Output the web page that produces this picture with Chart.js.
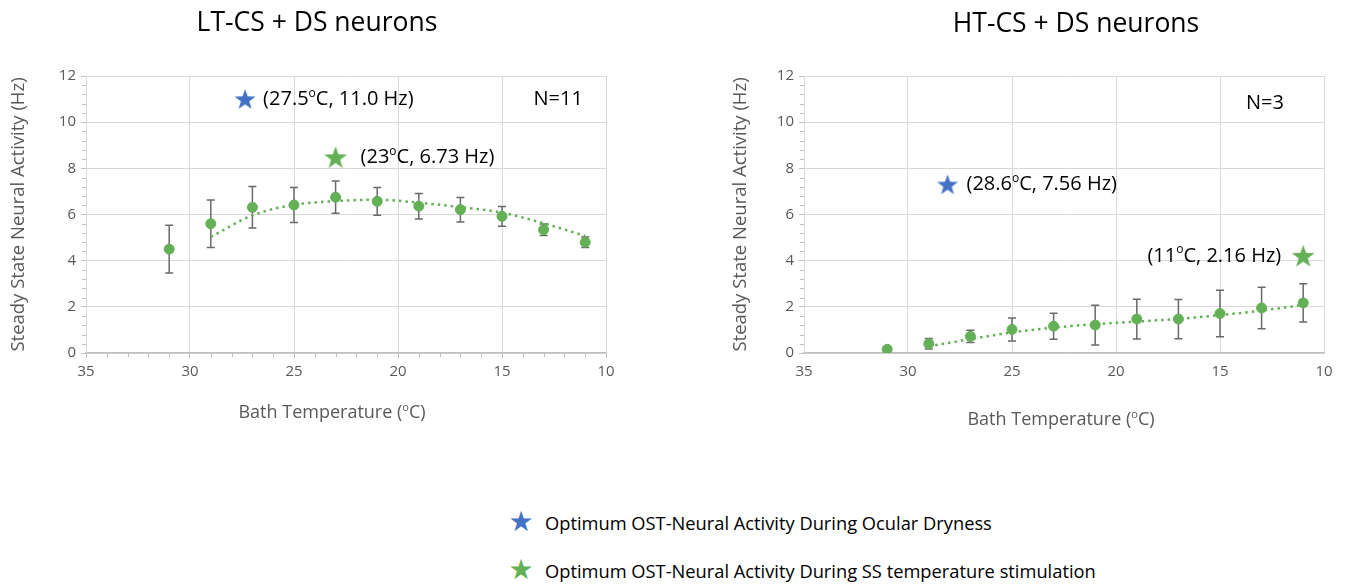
<!DOCTYPE html>
<html>
<head>
<meta charset="utf-8">
<script src="https://cdn.jsdelivr.net/npm/chart.js@4.4.1/dist/chart.umd.min.js"></script>
<style>
  body { margin: 0; background: #fff; width: 1345px; height: 585px; position: relative; overflow: hidden; font-family: "Open Sans", sans-serif; }
  canvas { position: absolute; top: 0; }
  #chartL { left: 0; }
  #chartR { left: 700px; }
  .st { position: absolute; left: 508px; width: 26px; text-align: center; font-family: "DejaVu Sans", sans-serif; font-size: 28px; line-height: 26px; }
  .lt { position: absolute; left: 545px; font-size: 18.3px; line-height: 22px; color: #000; white-space: nowrap; }
</style>
</head>
<body>
<canvas id="chartL" width="660" height="450"></canvas>
<canvas id="chartR" width="645" height="450"></canvas>

<span class="st" style="top:509px;color:#4472C4">★</span>
<span class="lt" style="top:512px">Optimum OST-Neural Activity During Ocular Dryness</span>
<span class="st" style="top:557px;color:#63B056">★</span>
<span class="lt" style="top:560px">Optimum OST-Neural Activity During SS temperature stimulation</span>

<script>
// --- data ---
const temps = [31, 29, 27, 25, 23, 21, 19, 17, 15, 13, 11];
const trendTemps = [29, 27, 25, 23, 21, 19, 17, 15, 13, 11];

// LT-CS + DS neurons
const ltMean = [4.50, 5.60, 6.31, 6.41, 6.75, 6.57, 6.36, 6.21, 5.92, 5.34, 4.80];
const ltErr = [1.03, 1.03, 0.90, 0.76, 0.70, 0.60, 0.55, 0.53, 0.43, 0.25, 0.23];
const ltTrend = [5.03, 5.96, 6.42, 6.58, 6.64, 6.51, 6.32, 6.08, 5.62, 5.07];
const ltStarX = [27.35, 23];
const ltStarY = [11.0, 8.48];

// HT-CS + DS neurons
const htMean = [0.16, 0.40, 0.72, 1.02, 1.16, 1.21, 1.47, 1.47, 1.71, 1.95, 2.17];
const htErr = [0, 0.23, 0.27, 0.50, 0.56, 0.86, 0.86, 0.85, 1.01, 0.90, 0.83];
const htTrend = [0.29, 0.60, 0.89, 1.10, 1.25, 1.36, 1.48, 1.64, 1.84, 2.08];
const htStarX = [28.1, 11];
const htStarY = [7.3, 4.21];

const xTicks = [35, 30, 25, 20, 15, 10];
const yTicks = [0, 2, 4, 6, 8, 10, 12];

const GREEN = "#63B056";
const BLUE = "#4472C4";
const FONT = '"Open Sans", sans-serif';

// filled 5-point star, Excel style
function starImage(color, r) {
  const s = Math.ceil(r * 2 + 2);
  const c = document.createElement("canvas");
  c.width = s; c.height = s;
  const g = c.getContext("2d");
  g.fillStyle = color;
  g.beginPath();
  for (let i = 0; i < 10; i++) {
    const rad = i % 2 ? r * 0.4 : r;
    const a = -Math.PI / 2 + i * Math.PI / 5;
    g.lineTo(s / 2 + rad * Math.cos(a), s / 2 + rad * Math.sin(a) + r * 0.08);
  }
  g.closePath();
  g.fill();
  return c;
}

// text with a superscript "o" written as {o}
function richText(ctx, str, x, y, size, color, align) {
  const parts = str.split(/(\{o\})/).filter(p => p);
  const big = size + "px " + FONT, small = Math.round(size * 0.62) + "px " + FONT;
  let w = 0;
  parts.forEach(p => { ctx.font = p === "{o}" ? small : big; w += ctx.measureText(p === "{o}" ? "o" : p).width; });
  let cx = align === "center" ? x - w / 2 : align === "right" ? x - w : x;
  ctx.fillStyle = color;
  ctx.textBaseline = "middle";
  ctx.textAlign = "left";
  parts.forEach(p => {
    if (p === "{o}") {
      ctx.font = small;
      ctx.fillText("o", cx, y - size * 0.3);
      cx += ctx.measureText("o").width;
    } else {
      ctx.font = big;
      ctx.fillText(p, cx, y);
      cx += ctx.measureText(p).width;
    }
  });
}

// error bars under the points
const errorBars = {
  id: "errorBars",
  beforeDatasetsDraw(chart) {
    const ds = chart.data.datasets[1];
    const { ctx, scales: { x, y } } = chart;
    ctx.save();
    ctx.strokeStyle = "#6a6a6a";
    ctx.lineWidth = 1.5;
    ds.data.forEach((p, i) => {
      const e = ds.errors[i];
      if (!e) return;
      const px = x.getPixelForValue(p.x);
      const t = y.getPixelForValue(p.y + e), b = y.getPixelForValue(p.y - e);
      ctx.beginPath();
      ctx.moveTo(px, t); ctx.lineTo(px, b);
      ctx.moveTo(px - 4, t); ctx.lineTo(px + 4, t);
      ctx.moveTo(px - 4, b); ctx.lineTo(px + 4, b);
      ctx.stroke();
    });
    ctx.restore();
  }
};

// minor tick marks + all free text
const decor = {
  id: "decor",
  afterDraw(chart) {
    const o = chart.options.plugins.decor;
    const { ctx, chartArea: a, scales: { x, y } } = chart;
    ctx.save();
    ctx.strokeStyle = "#bfbfbf";
    ctx.lineWidth = 1;
    ctx.beginPath();
    for (let v = 0.4; v < 12; v += 0.4) {
      if (Math.abs(v / 2 - Math.round(v / 2)) < 0.01) continue;
      const py = Math.round(y.getPixelForValue(v)) + 0.5;
      ctx.moveTo(a.left - 4, py); ctx.lineTo(a.left, py);
    }
    if (o.minorX) {
      for (let v = 11; v < 35; v++) {
        if (v % 5 === 0) continue;
        const px = Math.round(x.getPixelForValue(v)) + 0.5;
        ctx.moveTo(px, a.bottom); ctx.lineTo(px, a.bottom + 4);
      }
    }
    ctx.stroke();

    richText(ctx, o.title, o.titleX, o.titleY, 26.5, "#000", "center");
    richText(ctx, "Bath Temperature ({o}C)", o.xTitleX, o.xTitleY, 18, "#595959", "center");
    ctx.save();
    ctx.translate(o.yTitleX, (a.top + a.bottom) / 2);
    ctx.rotate(-Math.PI / 2);
    richText(ctx, "Steady State Neural Activity (Hz)", 0, 0, 18.5, "#595959", "center");
    ctx.restore();

    o.notes.forEach(n => {
      const px = x.getPixelForValue(n.x) + (n.dx || 0);
      const py = y.getPixelForValue(n.y);
      richText(ctx, n.text, px, py, 20, "#000", n.align);
    });
    ctx.restore();
  }
};

function makeChart(id, mean, err, trend, starX, starY, L) {
  return new Chart(document.getElementById(id), {
    type: "scatter",
    data: {
      datasets: [
        {
          type: "line",
          data: trendTemps.map((t, i) => ({ x: t, y: trend[i] })),
          borderColor: GREEN,
          borderWidth: 2.5,
          borderDash: [2.5, 4],
          pointRadius: 0,
          cubicInterpolationMode: "monotone",
          fill: false,
          order: 3
        },
        {
          data: temps.map((t, i) => ({ x: t, y: mean[i] })),
          errors: err,
          backgroundColor: GREEN,
          borderColor: GREEN,
          pointRadius: 5,
          order: 2
        },
        {
          data: starX.map((t, i) => ({ x: t, y: starY[i] })),
          pointStyle: [starImage(BLUE, 11), starImage(GREEN, 12)],
          pointRadius: 11,
          order: 1
        }
      ]
    },
    options: {
      responsive: false,
      animation: false,
      events: [],
      layout: { padding: { top: 76, right: L.padRight, left: 0, bottom: 0 } },
      plugins: {
        legend: { display: false },
        tooltip: { enabled: false },
        decor: L
      },
      scales: {
        x: {
          type: "linear",
          reverse: true,
          min: 10, max: 35,
          afterBuildTicks: s => { s.ticks = xTicks.map(v => ({ value: v })); },
          afterFit: s => { s.height = 97; },
          grid: { color: "#d9d9d9", drawTicks: L.minorX, tickLength: 5, tickColor: "#bfbfbf" },
          border: { color: "#bfbfbf", width: 1.5 },
          ticks: { color: "#595959", font: { family: FONT, size: 15 }, padding: L.minorX ? 5 : 10, maxRotation: 0 }
        },
        y: {
          min: 0, max: 12,
          afterBuildTicks: s => { s.ticks = yTicks.map(v => ({ value: v })); },
          afterFit: s => { s.width = L.yAxisW; },
          grid: { color: "#d9d9d9", tickLength: 5, tickColor: "#bfbfbf" },
          border: { color: "#d9d9d9" },
          ticks: { color: "#595959", font: { family: FONT, size: 15 }, padding: 5 }
        }
      }
    },
    plugins: [errorBars, decor]
  });
}

makeChart("chartL", ltMean, ltErr, ltTrend, ltStarX, ltStarY, {
  yAxisW: 86, padRight: 54, minorX: true,
  title: "LT-CS + DS neurons", titleX: 317, titleY: 23,
  xTitleX: 332, xTitleY: 413, yTitleX: 19,
  notes: [
    { x: 27.35, y: 11.0, dx: 18, align: "left", text: "(27.5{o}C, 11.0 Hz)" },
    { x: 23, y: 8.48, dx: 25, align: "left", text: "(23{o}C, 6.73 Hz)" },
    { x: 12.3, y: 11.0, align: "center", text: "N=11" }
  ]
});

makeChart("chartR", htMean, htErr, htTrend, htStarX, htStarY, {
  yAxisW: 104, padRight: 21, minorX: false,
  title: "HT-CS + DS neurons", titleX: 376, titleY: 24,
  xTitleX: 361, xTitleY: 420, yTitleX: 41,
  notes: [
    { x: 28.1, y: 7.3, dx: 19, align: "left", text: "(28.6{o}C, 7.56 Hz)" },
    { x: 11, y: 4.21, dx: -22, align: "right", text: "(11{o}C, 2.16 Hz)" },
    { x: 12.84, y: 10.83, align: "center", text: "N=3" }
  ]
});
</script>
</body>
</html>
